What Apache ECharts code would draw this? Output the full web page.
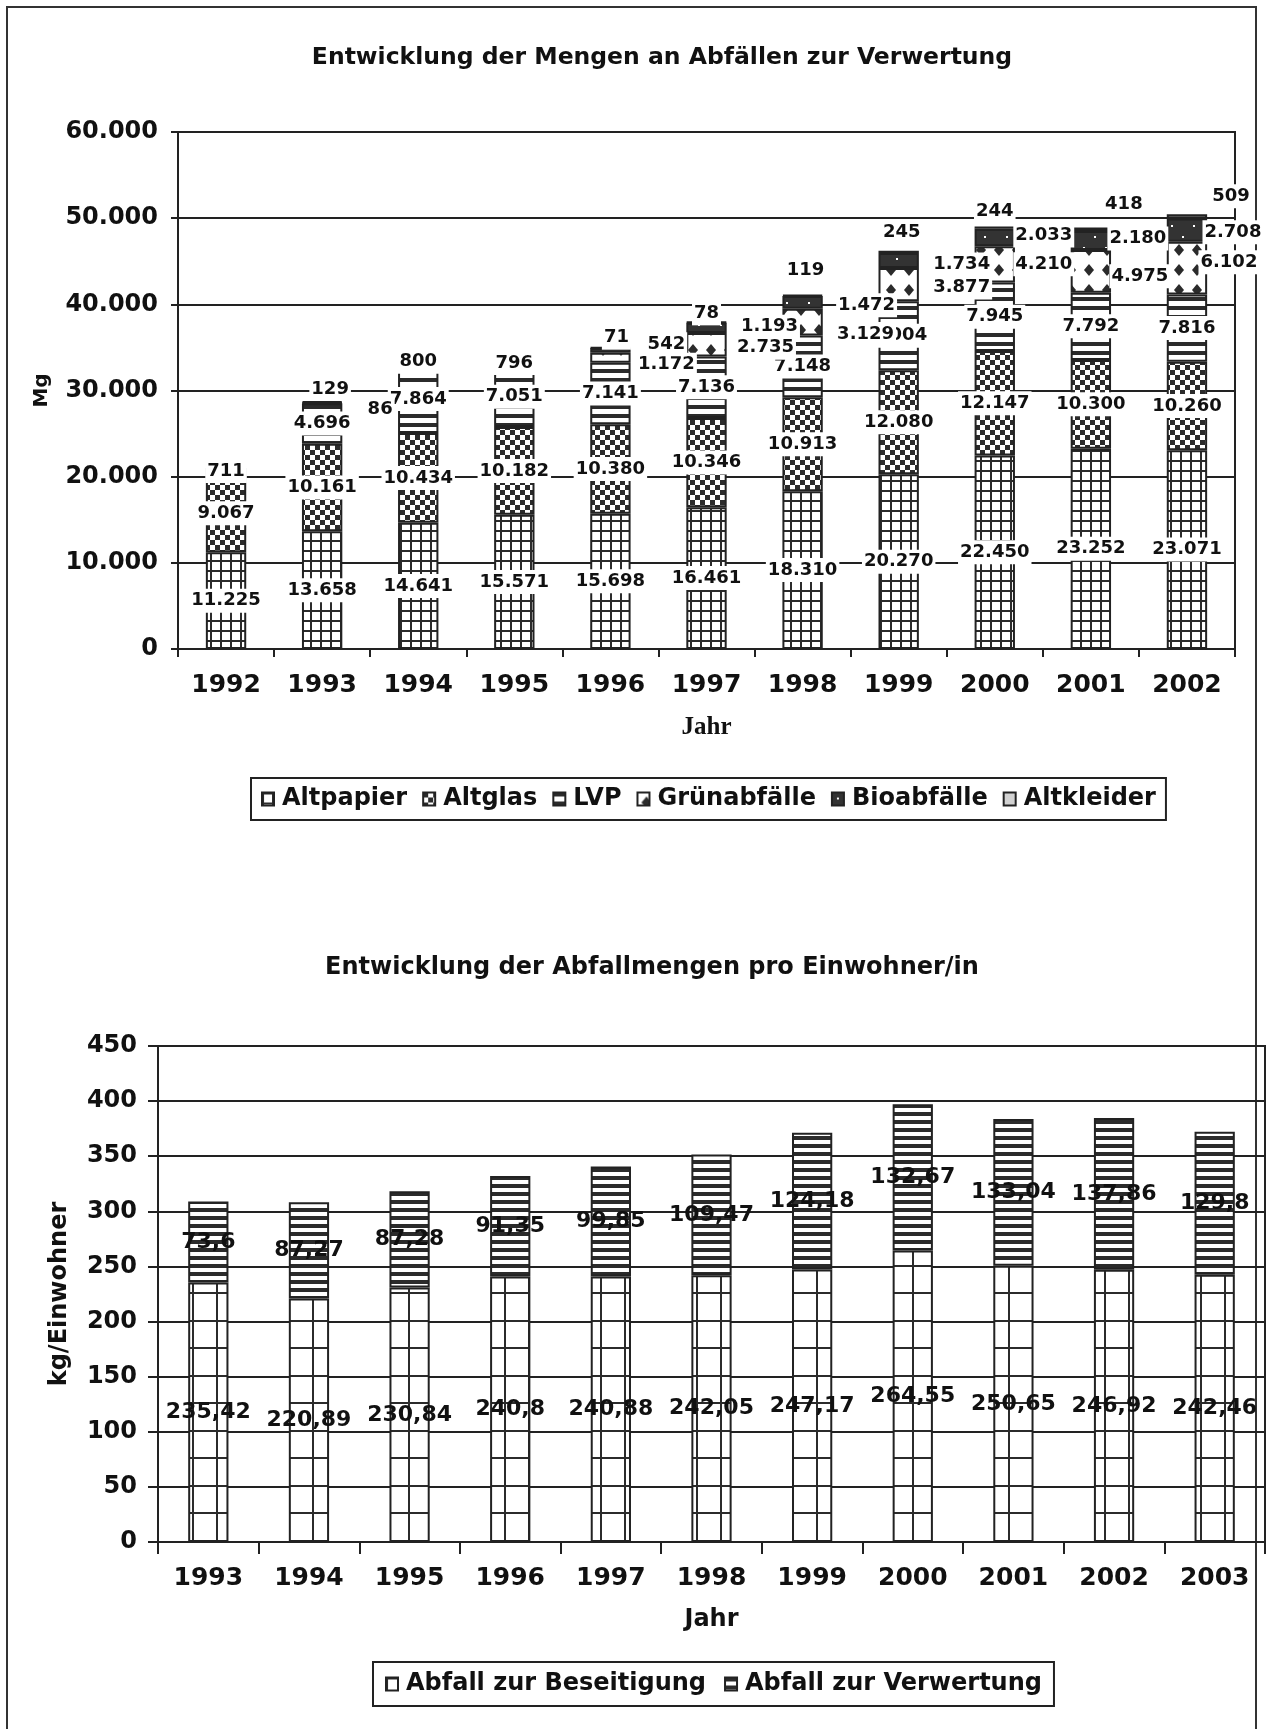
<!DOCTYPE html>
<html>
<head>
<meta charset="utf-8">
<script src="https://cdn.jsdelivr.net/npm/echarts@6/dist/echarts.min.js"></script>
<style>
  html, body { margin: 0; padding: 0; background: #fff; }
  #chart { width: 1271px; height: 1729px; }
</style>
</head>
<body>
<div id="chart"></div>
<script>
// ---- Mengen an Abfällen zur Verwertung (Mg) ----
const years1 = ['1992', '1993', '1994', '1995', '1996', '1997', '1998', '1999', '2000', '2001', '2002'];
const altpapier  = [11225, 13658, 14641, 15571, 15698, 16461, 18310, 20270, 22450, 23252, 23071];
const altglas    = [9067, 10161, 10434, 10182, 10380, 10346, 10913, 12080, 12147, 10300, 10260];
const lvp        = [null, 4696, 7864, 7051, 7141, 7136, 7148, 8004, 7945, 7792, 7816];
const gruen      = [null, null, null, null, 1172, 2735, 3129, 3877, 4210, 4975, 6102];
const bio        = [null, 86, null, null, 542, 1193, 1472, 1734, 2033, 2180, 2708];
const altkleider = [711, 129, 800, 796, 71, 78, 119, 245, 244, 418, 509];
const yTicks1 = [0, 10000, 20000, 30000, 40000, 50000, 60000];

// ---- Abfallmengen pro Einwohner/in (kg) ----
const years2 = ['1993', '1994', '1995', '1996', '1997', '1998', '1999', '2000', '2001', '2002', '2003'];
const beseitigung = [235.42, 220.89, 230.84, 240.8, 240.88, 242.05, 247.17, 264.55, 250.65, 246.92, 242.46];
const verwertung  = [73.6, 87.27, 87.28, 91.35, 99.85, 109.47, 124.18, 132.67, 133.04, 137.86, 129.8];
const yTicks2 = [0, 50, 100, 150, 200, 250, 300, 350, 400, 450];

// Label nudges (pixels) for the small segments whose labels sit beside the bar
const labelNudge = {
  'Grünabfälle': { 4: [56, 7], 5: [59, 3], 6: [63, 12], 7: [63, 3], 8: [49, 0], 9: [49, 5], 10: [42, -6] },
  'Bioabfälle':  { 1: [58, 6], 4: [56, -6], 5: [63, -1], 6: [64, 3], 7: [63, 4], 8: [49, -2], 9: [47, -2], 10: [46, 2] },
  'Altkleider':  { 1: [8, -13], 4: [6, -10], 5: [0, -9], 6: [3, -25], 7: [3, -20], 8: [0, -16], 9: [33, -25], 10: [44, -20] }
};

const FONT = 'DejaVu Sans';
const INK = '#2b2b2b';

// hatch tiles used as bar fills
function tile(w, h, draw) {
  const c = document.createElement('canvas');
  c.width = w; c.height = h;
  const g = c.getContext('2d');
  g.fillStyle = '#fff';
  g.fillRect(0, 0, w, h);
  draw(g, w, h);
  return { image: c, repeat: 'repeat' };
}
const fillPaper = tile(10, 10, g => { g.fillStyle = INK; g.fillRect(0, 0, 10, 2); g.fillRect(0, 0, 2, 10); });
const fillGlass = tile(10, 10, g => { g.fillStyle = INK; g.fillRect(0, 0, 5, 5); g.fillRect(5, 5, 5, 5); });
const fillLvp = tile(4, 9, g => { g.fillStyle = INK; g.fillRect(0, 0, 4, 4); });
const fillGruen = tile(18, 20, g => {
  g.fillStyle = INK;
  g.beginPath(); g.moveTo(9, 4); g.lineTo(14, 10); g.lineTo(9, 16); g.lineTo(4, 10); g.closePath(); g.fill();
});
const fillBio = tile(22, 22, g => {
  g.fillStyle = '#333'; g.fillRect(0, 0, 22, 22);
  g.fillStyle = '#fff'; g.fillRect(5, 5, 2, 2); g.fillRect(16, 16, 2, 2);
});
const fillKleider = '#d2d2d2';
const fillBeseitigung = tile(24, 55, g => {
  g.fillStyle = INK; g.fillRect(0, 0, 2, 55); g.fillRect(0, 0, 24, 2); g.fillRect(0, 27, 24, 2);
});
const fillVerwertung = tile(4, 8, g => { g.fillStyle = INK; g.fillRect(0, 0, 4, 4); });

function de(n) { return String(n).replace(/\B(?=(\d{3})+(?!\d))/g, '.'); }
function deDec(n) { return String(n).replace('.', ','); }

const boldText = { fontFamily: FONT, fontWeight: 'bold', color: '#111' };

function topSeries(name, values, fill) {
  const nudge = labelNudge[name] || {};
  return {
    type: 'bar', name, stack: 'mengen', xAxisIndex: 0, yAxisIndex: 0,
    barWidth: '42%',
    itemStyle: { color: fill, borderColor: '#222', borderWidth: 2 },
    label: {
      show: true, position: 'inside', ...boldText, fontSize: 18,
      backgroundColor: '#fff', padding: [3, 2],
      formatter: p => (p.value == null ? '' : de(p.value))
    },
    data: values.map((v, i) => {
      if (v == null) return null;
      return nudge[i] ? { value: v, label: { offset: nudge[i] } } : { value: v };
    })
  };
}

function bottomSeries(name, values, fill) {
  return {
    type: 'bar', name, stack: 'einwohner', xAxisIndex: 1, yAxisIndex: 1,
    barWidth: '40%',
    itemStyle: { color: fill, borderColor: '#222', borderWidth: 2 },
    label: {
      show: true, position: 'inside', ...boldText, fontSize: 22,
      formatter: p => deDec(p.value)
    },
    data: values
  };
}

const axisLineStyle = { color: '#222', width: 2 };

const option = {
  animation: false,
  backgroundColor: '#fff',
  graphic: [
    { type: 'rect', shape: { x: 7, y: 7, width: 1249, height: 1760 },
      style: { fill: 'none', stroke: '#333', lineWidth: 2 }, silent: true },
    { type: 'text', x: 662, y: 58,
      style: { text: 'Entwicklung der Mengen an Abfällen zur Verwertung', ...boldText, fill: '#111',
               fontSize: 23.5, align: 'center', verticalAlign: 'middle' } },
    { type: 'text', x: 652, y: 968,
      style: { text: 'Entwicklung der Abfallmengen pro Einwohner/in', ...boldText, fill: '#111',
               fontSize: 24, align: 'center', verticalAlign: 'middle' } }
  ],
  grid: [
    { left: 178, top: 132, width: 1057, height: 517, show: true, borderColor: '#222', borderWidth: 2, containLabel: false },
    { left: 158, top: 1046, width: 1107, height: 496, show: true, borderColor: '#222', borderWidth: 2, containLabel: false }
  ],
  legend: [
    { data: ['Altpapier', 'Altglas', 'LVP', 'Grünabfälle', 'Bioabfälle', 'Altkleider'],
      left: 251, top: 778, padding: [9, 10], itemGap: 15, itemWidth: 12, itemHeight: 13,
      borderColor: '#222', borderWidth: 2, icon: 'rect',
      textStyle: { ...boldText, fontSize: 24, padding: [0, 0, 0, 3] } },
    { data: ['Abfall zur Beseitigung', 'Abfall zur Verwertung'],
      left: 373, top: 1662, padding: [10, 12], itemGap: 18, itemWidth: 12, itemHeight: 13,
      borderColor: '#222', borderWidth: 2, icon: 'rect',
      textStyle: { ...boldText, fontSize: 24, padding: [0, 0, 0, 3] } }
  ],
  xAxis: [
    { type: 'category', gridIndex: 0, data: years1,
      axisLine: { lineStyle: axisLineStyle },
      axisTick: { show: true, length: 8, lineStyle: axisLineStyle },
      axisLabel: { ...boldText, fontSize: 25, margin: 24 },
      name: 'Jahr', nameLocation: 'middle', nameGap: 66,
      nameTextStyle: { fontFamily: 'Liberation Serif', fontWeight: 'bold', fontSize: 25, color: '#111' } },
    { type: 'category', gridIndex: 1, data: years2,
      axisLine: { lineStyle: axisLineStyle },
      axisTick: { show: true, length: 12, lineStyle: axisLineStyle },
      axisLabel: { ...boldText, fontSize: 25, margin: 24 },
      name: 'Jahr', nameLocation: 'middle', nameGap: 66,
      nameTextStyle: { ...boldText, fontSize: 24 } }
  ],
  yAxis: [
    { type: 'value', gridIndex: 0, min: yTicks1[0], max: yTicks1[yTicks1.length - 1], interval: yTicks1[1] - yTicks1[0],
      axisLine: { show: true, lineStyle: axisLineStyle },
      axisTick: { show: true, length: 7, lineStyle: axisLineStyle },
      splitLine: { lineStyle: { color: '#222', width: 2 } },
      axisLabel: { ...boldText, fontSize: 24, margin: 20, formatter: v => de(v) },
      name: 'Mg', nameLocation: 'middle', nameGap: 126, nameRotate: 90,
      nameTextStyle: { ...boldText, fontSize: 20 } },
    { type: 'value', gridIndex: 1, min: yTicks2[0], max: yTicks2[yTicks2.length - 1], interval: yTicks2[1] - yTicks2[0],
      axisLine: { show: true, lineStyle: axisLineStyle },
      axisTick: { show: true, length: 10, lineStyle: axisLineStyle },
      splitLine: { lineStyle: { color: '#222', width: 2 } },
      axisLabel: { ...boldText, fontSize: 24, margin: 21 },
      name: 'kg/Einwohner', nameLocation: 'middle', nameGap: 86, nameRotate: 90,
      nameTextStyle: { ...boldText, fontSize: 24 } }
  ],
  series: [
    topSeries('Altpapier', altpapier, fillPaper),
    topSeries('Altglas', altglas, fillGlass),
    topSeries('LVP', lvp, fillLvp),
    topSeries('Grünabfälle', gruen, fillGruen),
    topSeries('Bioabfälle', bio, fillBio),
    topSeries('Altkleider', altkleider, fillKleider),
    bottomSeries('Abfall zur Beseitigung', beseitigung, fillBeseitigung),
    bottomSeries('Abfall zur Verwertung', verwertung, fillVerwertung)
  ]
};

const chart = echarts.init(document.getElementById('chart'), null, { renderer: 'canvas' });
chart.setOption(option);
</script>
</body>
</html>
